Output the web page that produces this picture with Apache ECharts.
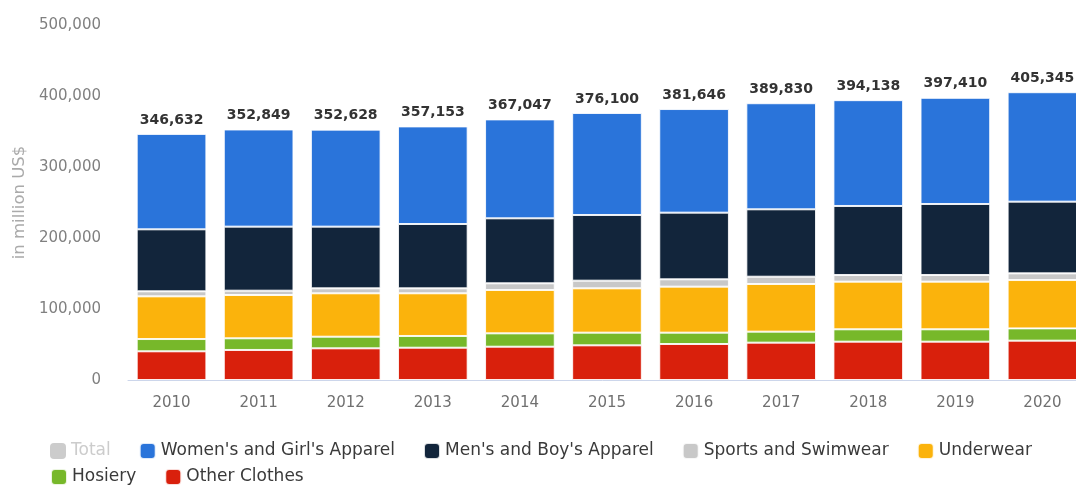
<!DOCTYPE html>
<html>
<head>
<meta charset="utf-8">
<script src="https://cdn.jsdelivr.net/npm/echarts@6/dist/echarts.min.js"></script>
<style>
  html, body { margin: 0; padding: 0; background: #ffffff; }
  #chart { width: 1076px; height: 488px; }
</style>
</head>
<body>
<div id="chart"></div>
<script>
// Global apparel market value by segment, in million US$
const years = ['2010', '2011', '2012', '2013', '2014', '2015', '2016', '2017', '2018', '2019', '2020'];
const totals = [346632, 352849, 352628, 357153, 367047, 376100, 381646, 389830, 394138, 397410, 405345];
const otherClothes = [40400, 42300, 44600, 45500, 46900, 48800, 50700, 52600, 54000, 54000, 55400];
const hosiery = [17300, 16400, 16400, 16500, 18800, 17900, 16000, 15500, 17400, 17400, 17300];
const underwear = [60100, 61000, 61100, 60100, 61100, 62400, 64800, 67100, 67100, 67100, 68100];
const sportsSwimwear = [7100, 6100, 7000, 7000, 9400, 10800, 10300, 10300, 9400, 9400, 9400];
const mensApparel = [87300, 90200, 86900, 90600, 91500, 92500, 93900, 94900, 97200, 100000, 101000];
const womensApparel = [134432, 136849, 136628, 137453, 139347, 143700, 145946, 149430, 149038, 149510, 154145];
const yTicks = [0, 100000, 200000, 300000, 400000, 500000];

const FONT = '"DejaVu Sans", "Open Sans", sans-serif';
const fmt = v => v.toLocaleString('en-US');

const segStyle = color => ({ color: color, borderColor: 'rgba(255,255,255,0.85)', borderWidth: 1 });

function segment(name, data, color, extra) {
  return Object.assign({
    name: name,
    type: 'bar',
    stack: 'market',
    data: data,
    barCategoryGap: '20%',
    itemStyle: segStyle(color),
    emphasis: { disabled: true }
  }, extra || {});
}

const legendText = { color: '#3a3a3a', fontSize: 17, fontFamily: FONT };

const chart = echarts.init(document.getElementById('chart'), null, { renderer: 'canvas' });
chart.setOption({
  animation: false,
  backgroundColor: '#ffffff',
  // the plot runs past the right edge of the canvas, so the last column is clipped
  grid: { left: 128, top: 25, width: 958, height: 355, containLabel: false, outerBoundsMode: 'none' },
  legend: [
    {
      data: ['Total', "Women's and Girl's Apparel", "Men's and Boy's Apparel", 'Sports and Swimwear', 'Underwear'],
      left: 45, top: 437, itemGap: 28, itemWidth: 16, itemHeight: 16,
      icon: 'roundRect', textStyle: legendText, inactiveColor: '#cccccc',
      selected: { Total: false }
    },
    {
      data: ['Hosiery', 'Other Clothes'],
      left: 45, top: 463, itemGap: 28, itemWidth: 16, itemHeight: 16,
      icon: 'roundRect', textStyle: legendText, inactiveColor: '#cccccc'
    }
  ],
  xAxis: {
    type: 'category',
    data: years,
    axisLine: { show: true, lineStyle: { color: '#ccd6eb', width: 1 } },
    axisTick: { show: false },
    axisLabel: { color: '#707070', fontSize: 15, fontFamily: FONT, margin: 16 }
  },
  yAxis: {
    type: 'value',
    min: yTicks[0],
    max: yTicks[yTicks.length - 1],
    interval: yTicks[1] - yTicks[0],
    name: 'in million US$',
    nameLocation: 'middle',
    nameGap: 100,
    nameTextStyle: { color: '#aaaaaa', fontSize: 16.5, fontFamily: FONT },
    axisLine: { show: false },
    axisTick: { show: false },
    splitLine: { show: false },
    axisLabel: { color: '#808080', fontSize: 15, fontFamily: FONT, margin: 27, formatter: v => fmt(v) }
  },
  series: [
    { name: 'Total', type: 'bar', data: totals, itemStyle: { color: '#cccccc' }, barGap: '-100%' },
    segment('Other Clothes', otherClothes, '#d9200c'),
    segment('Hosiery', hosiery, '#77b82a'),
    segment('Underwear', underwear, '#fbb30c'),
    segment('Sports and Swimwear', sportsSwimwear, '#c8c8c8'),
    segment("Men's and Boy's Apparel", mensApparel, '#12253b'),
    segment("Women's and Girl's Apparel", womensApparel, '#2a74da', {
      label: {
        show: true,
        position: 'top',
        distance: 7,
        color: '#333333',
        fontWeight: 'bold',
        fontSize: 14,
        fontFamily: FONT,
        formatter: p => fmt(totals[p.dataIndex])
      }
    })
  ]
});
</script>
</body>
</html>
